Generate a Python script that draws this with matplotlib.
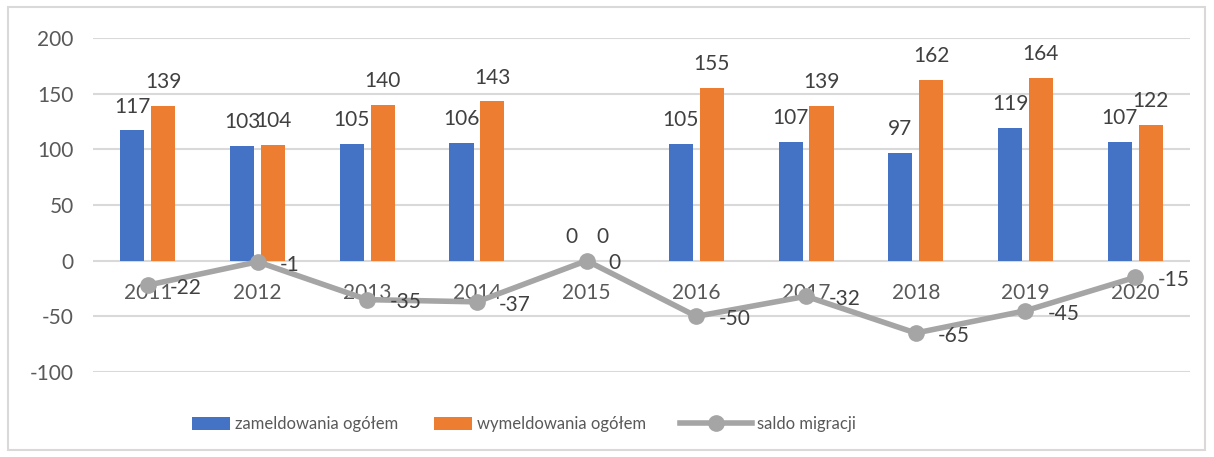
import matplotlib.pyplot as plt
import numpy as np
from matplotlib.patches import Rectangle

plt.rcParams['font.family'] = ['Lato', 'DejaVu Sans']
plt.rcParams['axes.unicode_minus'] = False

years = ['2011', '2012', '2013', '2014', '2015', '2016', '2017', '2018', '2019', '2020']
zameldowania = [117, 103, 105, 106, 0, 105, 107, 97, 119, 107]
wymeldowania = [139, 104, 140, 143, 0, 155, 139, 162, 164, 122]
saldo = [-22, -1, -35, -37, 0, -50, -32, -65, -45, -15]

BLUE = '#4472C4'
ORANGE = '#ED7D31'
GRAY = '#A5A5A5'
TXT = '#404040'

fig = plt.figure(figsize=(12.14, 4.57), dpi=100)
ax = fig.add_axes([93 / 1214, 85 / 457, (1190 - 93) / 1214, (419 - 85) / 457])

x = np.arange(len(years))
w = 0.22
off = 0.141
b1 = ax.bar(x - off, zameldowania, w, color=BLUE, label='zameldowania ogółem', zorder=2)
b2 = ax.bar(x + off, wymeldowania, w, color=ORANGE, label='wymeldowania ogółem', zorder=2)
ln, = ax.plot(x, saldo, color=GRAY, lw=4, marker='o', ms=11, label='saldo migracji', zorder=3)

for bars in (b1, b2):
    for r in bars:
        ax.annotate(f'{int(r.get_height())}', (r.get_x() + r.get_width() / 2, r.get_height()),
                    xytext=(0, 10), textcoords='offset points', ha='center', va='bottom',
                    fontsize=15, color=TXT, zorder=4)
for xi, v in zip(x, saldo):
    ax.annotate(f'{v}', (xi, v), xytext=(16, -2), textcoords='offset points',
                ha='left', va='center', fontsize=15, color=TXT, zorder=4)

ax.set_xlim(-0.5, len(years) - 0.5)
ax.set_ylim(-100, 200)
ax.set_yticks(range(-100, 201, 50))
ax.set_xticks(x)
ax.set_xticklabels(years)
ax.spines['bottom'].set_position(('data', 0))
for s in ax.spines.values():
    s.set_visible(False)
ax.grid(axis='y', color='#D9D9D9', lw=1.5, zorder=0)
ax.set_axisbelow(True)
ax.tick_params(axis='both', length=0, labelsize=15, labelcolor='#595959')
ax.tick_params(axis='y', pad=14)
ax.tick_params(axis='x', pad=16)

# two legends: bars use short patches, the line gets a longer handle
leg_kw = dict(frameon=False, fontsize=12, labelcolor='#595959', borderpad=0,
              borderaxespad=0, handletextpad=0.3)
leg1 = fig.legend(handles=[b1, b2], loc='center left', bbox_to_anchor=(192 / 1214, 33 / 457),
                  ncol=2, handlelength=2.3, handleheight=0.8, columnspacing=2.1, **leg_kw)
fig.legend(handles=[ln], loc='center left', bbox_to_anchor=(680 / 1214, 33 / 457),
           handlelength=4.3, **leg_kw)

fig.patches.append(Rectangle((8 / 1214, 7 / 457), 1197 / 1214, 443 / 457,
                             transform=fig.transFigure, fill=False,
                             edgecolor='#D9D9D9', lw=1.5))

fig.savefig('out.png', dpi=100)
